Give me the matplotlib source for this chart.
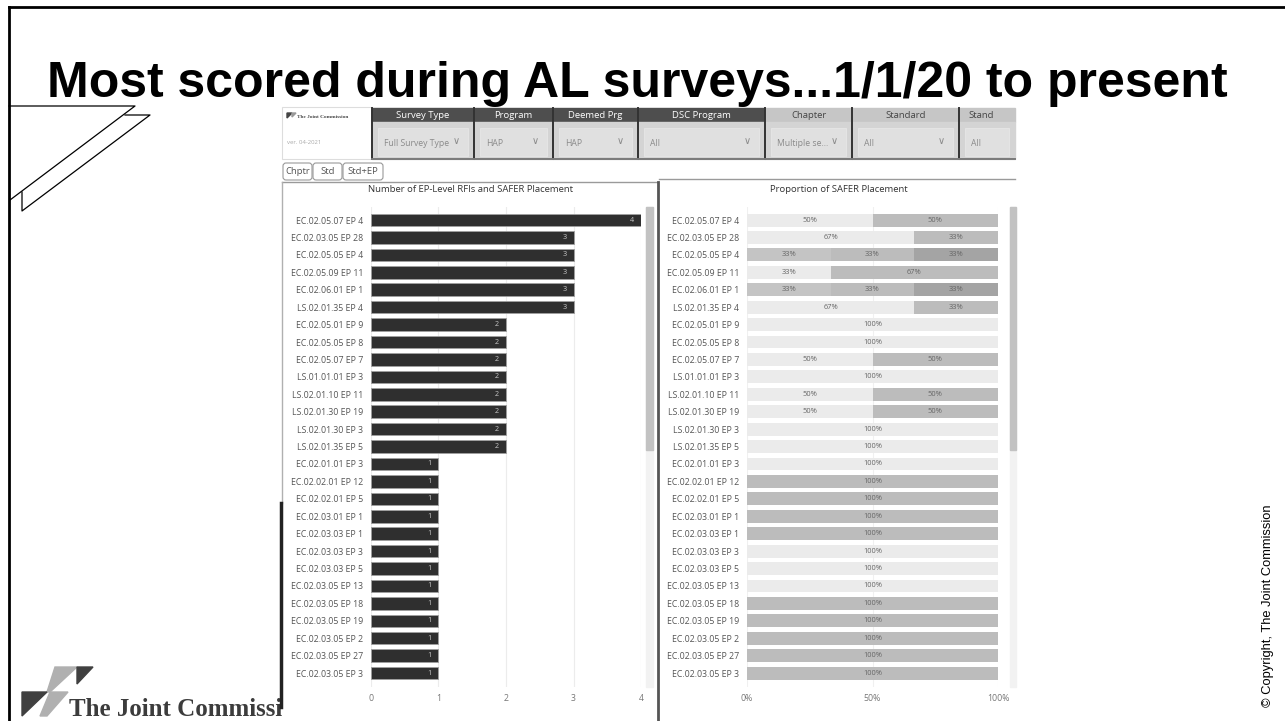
import matplotlib
matplotlib.use('Agg')
import matplotlib.pyplot as plt
from matplotlib.patches import Rectangle, Polygon, FancyBboxPatch
import numpy as np

W, H = 1285, 721
UI = ['Open Sans', 'DejaVu Sans']

title = "Most scored during AL surveys...1/1/20 to present"

ep_labels = [
    "EC.02.05.07 EP 4", "EC.02.03.05 EP 28", "EC.02.05.05 EP 4", "EC.02.05.09 EP 11",
    "EC.02.06.01 EP 1", "LS.02.01.35 EP 4", "EC.02.05.01 EP 9", "EC.02.05.05 EP 8",
    "EC.02.05.07 EP 7", "LS.01.01.01 EP 3", "LS.02.01.10 EP 11", "LS.02.01.30 EP 19",
    "LS.02.01.30 EP 3", "LS.02.01.35 EP 5", "EC.02.01.01 EP 3", "EC.02.02.01 EP 12",
    "EC.02.02.01 EP 5", "EC.02.03.01 EP 1", "EC.02.03.03 EP 1", "EC.02.03.03 EP 3",
    "EC.02.03.03 EP 5", "EC.02.03.05 EP 13", "EC.02.03.05 EP 18", "EC.02.03.05 EP 19",
    "EC.02.03.05 EP 2", "EC.02.03.05 EP 27", "EC.02.03.05 EP 3",
]
rfi_counts = [4, 3, 3, 3, 3, 3, 2, 2, 2, 2, 2, 2, 2, 2,
              1, 1, 1, 1, 1, 1, 1, 1, 1, 1, 1, 1, 1]

# RFIs per SAFER placement group (stacked left to right)
safer_light = [2, 2, 0, 1, 0, 2, 2, 2, 1, 2, 1, 1, 2, 2, 1, 0, 0, 0, 0, 1, 1, 1, 0, 0, 0, 0, 0]
safer_grey1 = [0, 0, 1, 0, 1, 0, 0, 0, 0, 0, 0, 0, 0, 0, 0, 0, 0, 0, 0, 0, 0, 0, 0, 0, 0, 0, 0]
safer_grey2 = [2, 1, 1, 2, 1, 1, 0, 0, 1, 0, 1, 1, 0, 0, 0, 1, 1, 1, 1, 0, 0, 0, 1, 1, 1, 1, 1]
safer_dark = [0, 0, 1, 0, 1, 0, 0, 0, 0, 0, 0, 0, 0, 0, 0, 0, 0, 0, 0, 0, 0, 0, 0, 0, 0, 0, 0]

filter_names = ["Survey Type", "Program", "Deemed Prg", "DSC Program", "Chapter", "Standard", "Stand"]
filter_values = ["Full Survey Type", "HAP", "HAP", "All", "Multiple se...", "All", "All"]
tab_names = ["Chptr", "Std", "Std+EP"]


def px_axes(fig, x0, y0, x1, y1):
    return fig.add_axes([x0 / W, 1 - y1 / H, (x1 - x0) / W, (y1 - y0) / H])


def main():
    fig = plt.figure(figsize=(W / 100, H / 100), dpi=100)

    # overlay in pixel coordinates for slide decoration and dashboard chrome
    ov = fig.add_axes([0, 0, 1, 1])
    ov.set_xlim(0, W)
    ov.set_ylim(H, 0)
    ov.axis('off')
    ov.set_zorder(0)

    # slide frame + ribbon shape
    ov.plot([9, 9], [7, 721], color='black', lw=2)
    ov.plot([9, W], [7, 7], color='black', lw=2)
    ov.plot([9, 135, 10], [106, 106, 200], color='black', lw=0.9)
    ov.plot([125, 150, 22, 22], [115, 115, 211, 192], color='black', lw=0.9)

    ov.text(47, 97, title, fontsize=36, fontweight='bold', family='Liberation Sans',
            va='baseline', ha='left', color='black')

    # bottom-left logo
    logo_polys = [
        ([(55, 667), (77, 667), (50, 692), (47, 692)], '#b0b0b0'),
        ([(77, 667), (93, 667), (77, 684)], '#404040'),
        ([(22, 692), (47, 692), (22, 716)], '#404040'),
        ([(50, 692), (68, 692), (47, 716), (40, 716)], '#b0b0b0'),
    ]
    for pts, col in logo_polys:
        ov.add_patch(Polygon(pts, closed=True, color=col, zorder=1))
    ov.text(69, 716, "The Joint Commission", fontsize=18, family='Liberation Serif',
            fontweight='bold', color='#3c3c3c', va='baseline', zorder=1)

    ov.text(1268, 606, "\u00a9 Copyright, The Joint Commission", rotation=90,
            fontsize=9.3, family='Liberation Sans', ha='center', va='center')

    # dashboard background covers the logo text
    ov.add_patch(Rectangle((282, 107), 735, 614, color='white', zorder=2))

    # dashboard logo cell
    ov.add_patch(Rectangle((282, 107), 90, 52, facecolor='white', edgecolor='#dddddd', lw=0.8, zorder=3))
    ov.add_patch(Polygon([(287, 113), (292, 113), (287, 118)], color='#444', zorder=4))
    ov.add_patch(Polygon([(292, 113), (296, 113), (292, 117)], color='#999', zorder=4))
    ov.text(297, 117, "The Joint Commission", fontsize=3.8, family='Liberation Serif',
            fontweight='bold', color='#444', va='center', zorder=4)
    ov.text(287, 142, "ver. 04-2021", fontsize=4.3, family=UI, color='#aaaaaa', va='center', zorder=4)

    # filter slicers
    edges = [372, 474, 553, 638, 765, 852, 959, 1015]
    for i, (name, val) in enumerate(zip(filter_names, filter_values)):
        x0, x1 = edges[i], edges[i + 1]
        dark = i < 4
        ov.add_patch(Rectangle((x0, 108), x1 - x0, 14, color='#4e4e4e' if dark else '#c6c6c6', zorder=3))
        if name == "Stand":
            ov.text(x0 + 9, 115, name, fontsize=6.8, family=UI, color='#444', ha='left', va='center', zorder=4)
        else:
            ov.text((x0 + x1) / 2, 115, name, fontsize=6.8, family=UI,
                    color='white' if dark else '#444', ha='center', va='center', zorder=4)
        ov.add_patch(Rectangle((x0, 122), x1 - x0, 37, color='#d4d4d4', zorder=3))
        ov.add_patch(Rectangle((x0 + 6, 128), x1 - x0 - 12, 28, facecolor='#e0e0e0',
                               edgecolor='#e6e6e6', lw=0.6, zorder=3))
        ov.text(x0 + 12, 143, val, fontsize=6.2, family=UI, color='#8a8a8a', va='center', zorder=4)
        if i < 6:
            ov.text(x1 - 14, 142, "\u2228", fontsize=7, family=UI, color='#8a8a8a',
                    ha='right', va='center', zorder=4)
    for x in edges[:-1]:
        ov.plot([x, x], [108, 159], color='#333333', lw=1.4, zorder=5)
    ov.plot([372, 1015], [159, 159], color='#7a7a7a', lw=1.4, zorder=5)

    # view tabs
    tab_x = [(283, 312), (313, 342), (343, 383)]
    for (x0, x1), name in zip(tab_x, tab_names):
        ov.add_patch(FancyBboxPatch((x0, 163), x1 - x0, 17, boxstyle="round,pad=0,rounding_size=3",
                                    facecolor='white', edgecolor='#999999', lw=0.8, zorder=3))
        ov.text((x0 + x1) / 2, 171.5, name, fontsize=6.8, family=UI, color='#555',
                ha='center', va='center', zorder=4)

    # panel borders
    ov.plot([282, 657], [182, 182], color='#9a9a9a', lw=1, zorder=5)
    ov.plot([659, 1015], [179, 179], color='#9a9a9a', lw=1, zorder=5)
    ov.plot([282, 282], [182, 503], color='#b0b0b0', lw=1, zorder=5)
    ov.plot([281, 281], [503, 707], color='#222222', lw=2.5, zorder=5)
    ov.plot([658, 658], [182, 721], color='#555555', lw=2, zorder=5)

    ov.text(471, 189, "Number of EP-Level RFIs and SAFER Placement", fontsize=6.8, family=UI,
            color='#333', ha='center', va='center', zorder=4)
    ov.text(839, 189, "Proportion of SAFER Placement", fontsize=6.8, family=UI,
            color='#333', ha='center', va='center', zorder=4)

    # scrollbars
    for sx, sw in [(646, 7), (1010, 6)]:
        ov.add_patch(Rectangle((sx, 207), sw, 480, color='#f2f2f2', zorder=3))
        ov.add_patch(Rectangle((sx, 207), sw, 243, color='#c2c2c2', zorder=3))

    n = len(ep_labels)
    y = np.arange(n)
    ylim = (26.80, -0.75)

    # left: counts
    axL = px_axes(fig, 371, 207, 641, 687)
    axL.set_zorder(2)
    axL.patch.set_alpha(0)
    axL.barh(y, rfi_counts, height=0.72, color='#2f2f2f', edgecolor='#a0a0a0', linewidth=0.6)
    for i, v in enumerate(rfi_counts):
        axL.annotate(str(v), (v, i), xytext=(-5, 0), textcoords='offset points',
                     ha='right', va='center', fontsize=5.2, color='#c8c8c8', family=UI)
    axL.set_xlim(0, 4)
    axL.set_ylim(*ylim)
    axL.set_xticks([0, 1, 2, 3, 4])
    axL.grid(axis='x', color='#ececec', lw=0.8)
    axL.set_axisbelow(True)

    # right: proportion of SAFER placement
    axR = px_axes(fig, 747, 207, 998, 687)
    axR.set_zorder(2)
    axR.patch.set_alpha(0)
    groups = [np.array(g, dtype=float) for g in (safer_light, safer_grey1, safer_grey2, safer_dark)]
    group_colors = ['#ebebeb', '#c4c4c4', '#bcbcbc', '#a4a4a4']
    totals = sum(groups)
    left = np.zeros(n)
    for g, col in zip(groups, group_colors):
        share = g / totals
        axR.barh(y, share, left=left, height=0.74, color=col, linewidth=0)
        for i in range(n):
            if share[i] > 0:
                axR.text(left[i] + share[i] / 2, i, f"{round(share[i] * 100)}%", ha='center',
                         va='center', fontsize=5.4, color='#666', family=UI)
        left += share
    axR.set_xlim(0, 1)
    axR.set_ylim(*ylim)
    axR.set_xticks([0, 0.5, 1])
    axR.set_xticklabels(["0%", "50%", "100%"])
    axR.grid(axis='x', color='#f0f0f0', lw=0.8)
    axR.set_axisbelow(True)

    for ax in (axL, axR):
        for s in ax.spines.values():
            s.set_visible(False)
        ax.set_yticks(y)
        ax.set_yticklabels(ep_labels, fontsize=6.3, color='#555', family=UI)
        ax.tick_params(axis='y', length=0, pad=5.5)
        ax.tick_params(axis='x', length=0, pad=5, labelsize=6.3, labelcolor='#777')
        for lab in ax.get_xticklabels():
            lab.set_family(UI)

    plt.savefig("out.png", dpi=100)


if __name__ == "__main__":
    main()
